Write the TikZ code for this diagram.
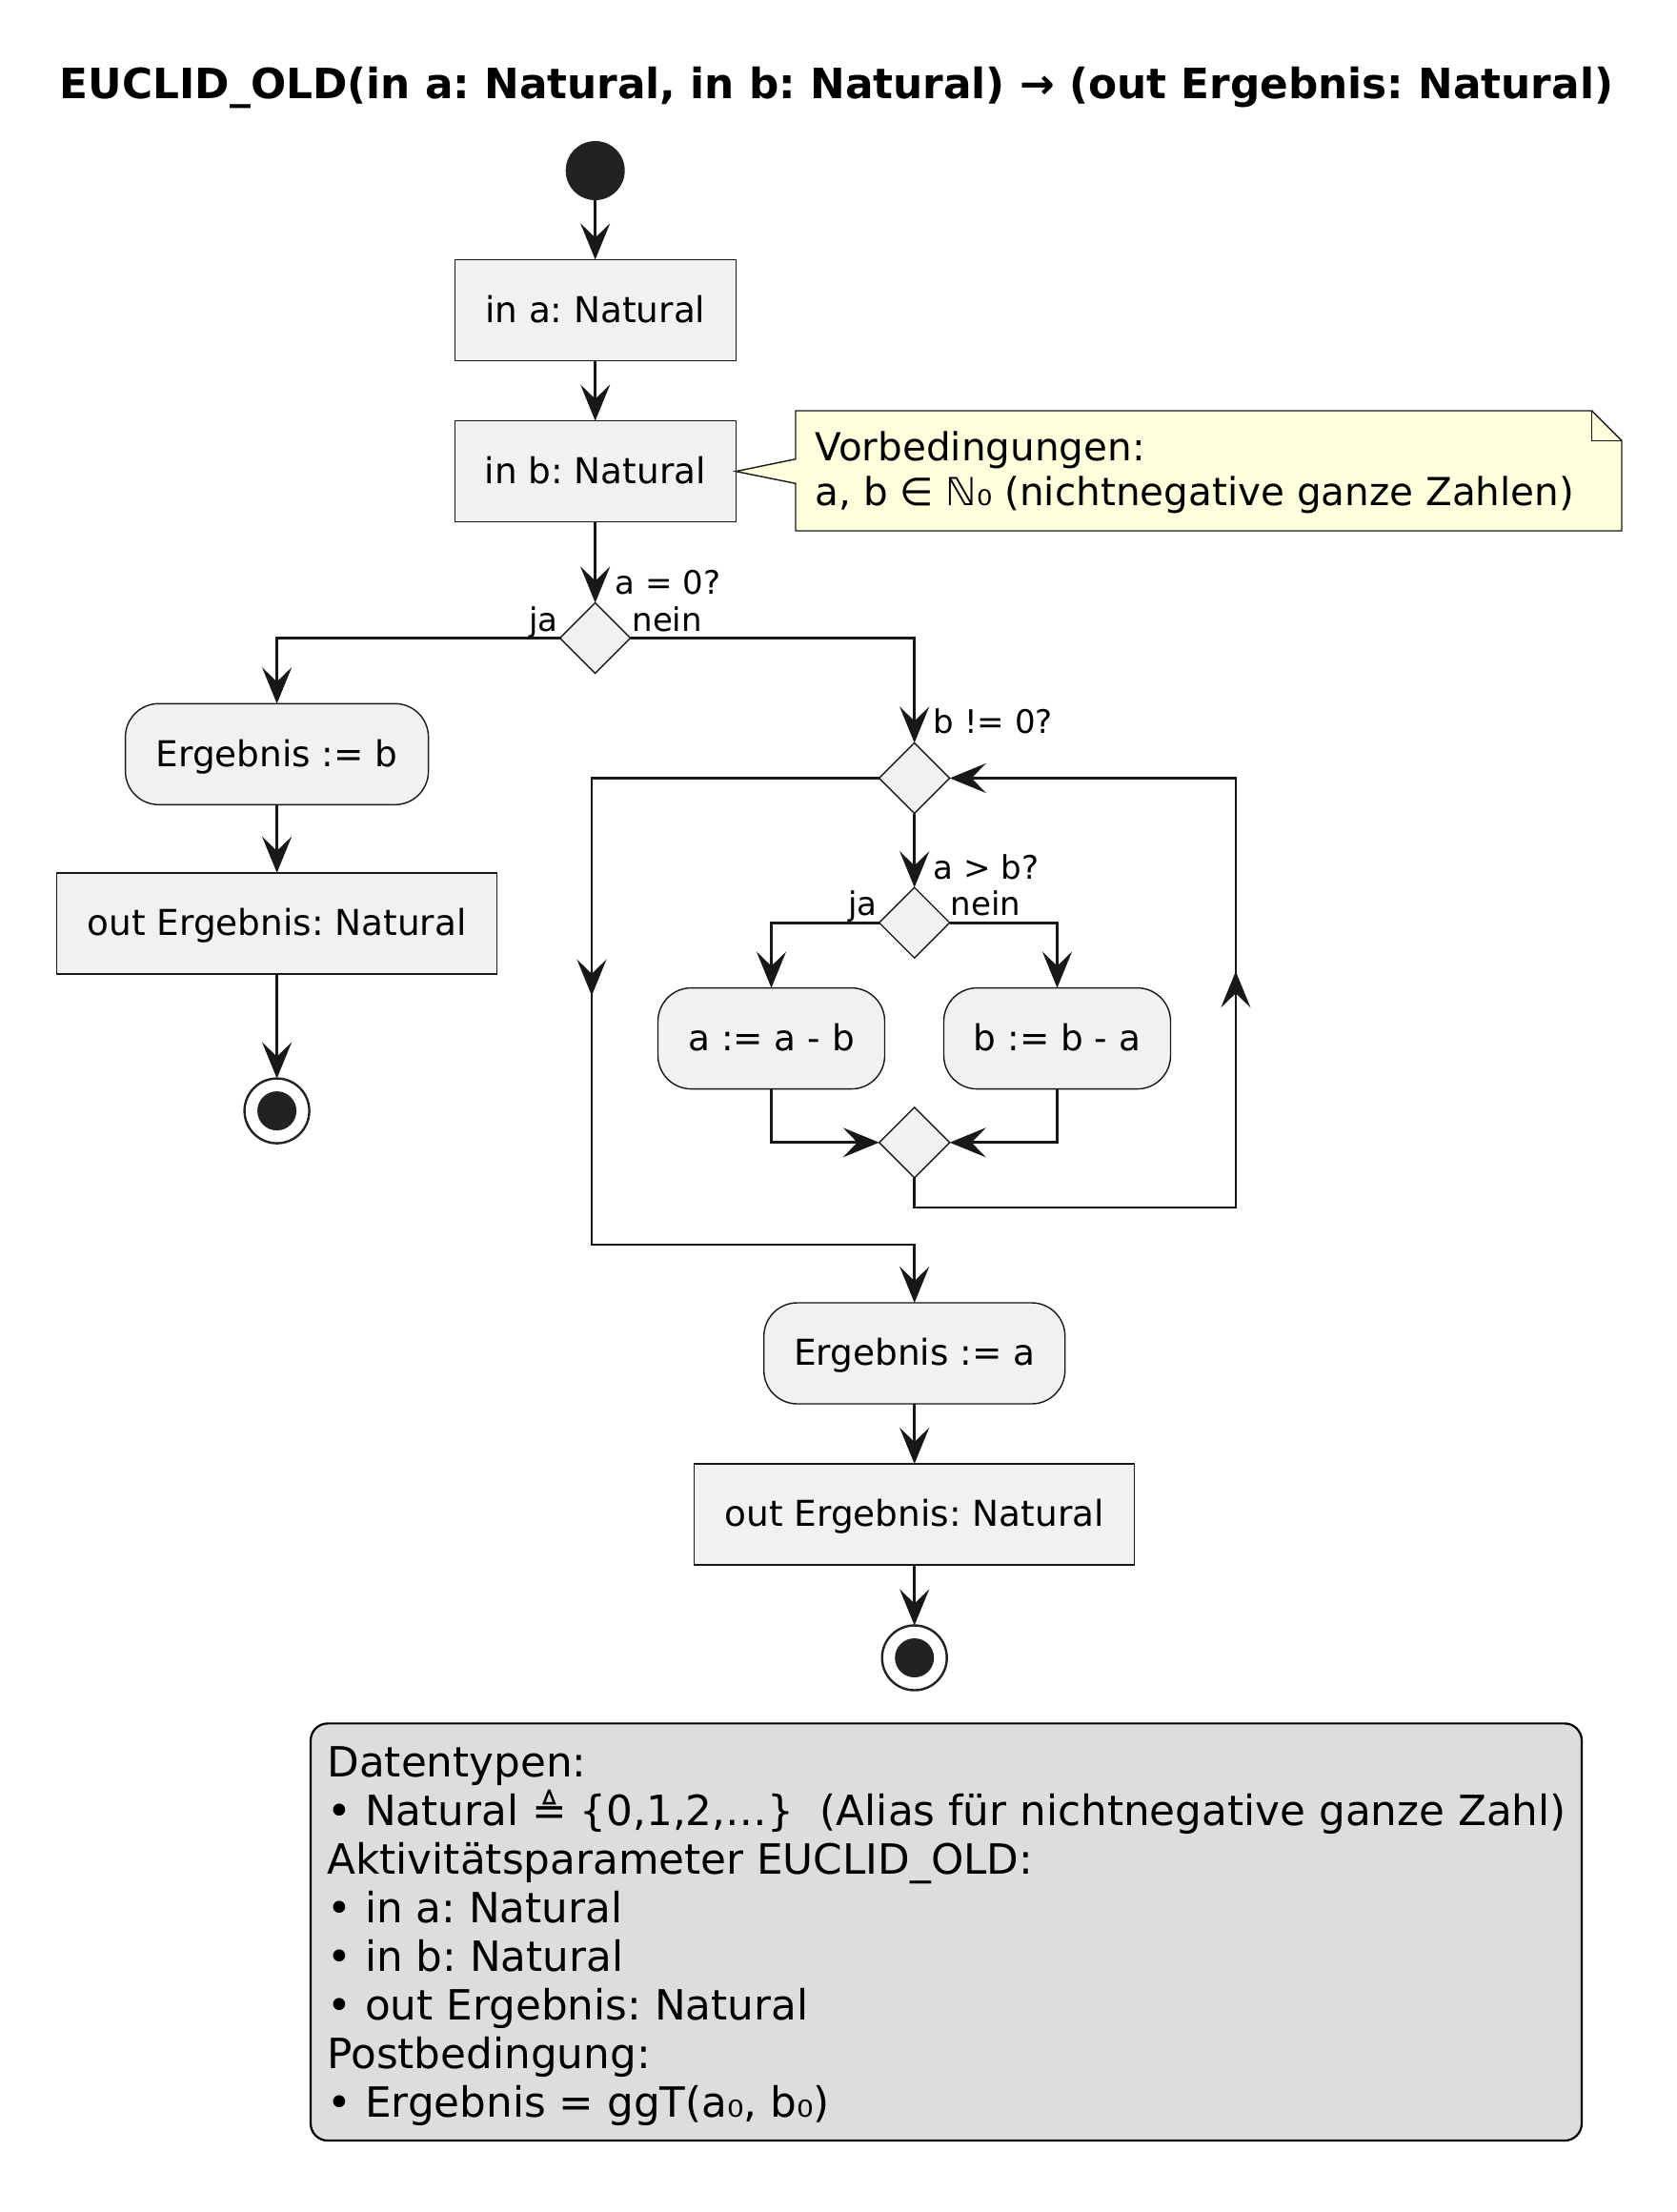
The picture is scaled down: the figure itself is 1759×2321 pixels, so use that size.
\documentclass[tikz,border=0pt]{standalone}
\usepackage{fontspec}
\setmainfont{DejaVu Sans}
\usetikzlibrary{arrows.meta,shapes.geometric,calc}
\definecolor{cline}{HTML}{181818}
\definecolor{cfill}{HTML}{F1F1F1}
\definecolor{cdark}{HTML}{222222}
\definecolor{cnote}{HTML}{FEFFDD}
\definecolor{clegend}{HTML}{DDDDDD}
\begin{document}
\frenchspacing
\begin{tikzpicture}[x=1pt,y=-1pt,
  actfont/.style={font=\fontsize{37.4pt}{43.5pt}\selectfont},
  lblfont/.style={font=\fontsize{34pt}{39.6pt}\selectfont},
  actbox/.style={rectangle, draw=cline, fill=cfill, line width=1.4pt, inner sep=0pt, outer sep=0pt, text height=34.6pt, text depth=8.8pt, actfont, minimum height=106pt},
  roundbox/.style={actbox, rounded corners=35pt},
  decision/.style={diamond, aspect=1, draw=cline, fill=cfill, line width=1.4pt, minimum width=74pt, minimum height=74pt, inner sep=0pt, outer sep=0pt},
  flow/.style={draw=cline, line width=2.7pt, -{Stealth[length=38pt,width=31pt,inset=15pt]}},
  lbl/.style={lblfont, inner sep=0pt, text=black},
  startdot/.style={circle, fill=cdark, minimum size=62pt, inner sep=0pt, outer sep=0pt},
  stopring/.style={circle, draw=cdark, fill=white, line width=2.4pt, minimum size=68pt, inner sep=0pt, outer sep=0pt},
]
\useasboundingbox (0,0) rectangle (1759,2321);
\fill[white] (0,0) rectangle (1759,2321);

% title
\node[font=\fontsize{43.8pt}{51pt}\selectfont\bfseries, anchor=base, inner sep=0pt] (title) at (878,103.3)
  {EUCLID\_OLD(in a: Natural, in b: Natural) → (out Ergebnis: Natural)};

% main column
\node[startdot] (start) at (624.7,179) {};
\node[actbox, minimum width=295pt] (ina) at (624.7,325.4) {in a: Natural};
\node[actbox, minimum width=295pt] (inb) at (624.7,494.6) {in b: Natural};
\node[decision] (d1) at (624.7,669.5) {};

% left branch
\node[roundbox, minimum width=318pt] (erb) at (290.6,791.3) {Ergebnis := b};
\node[actbox, minimum width=462pt] (outL) at (290.6,968.8) {out Ergebnis: Natural};
\node[stopring] (stopL) at (290.6,1165.6) {};
\fill[cdark] (stopL.center) circle (20.5pt);

% right branch
\node[decision] (d2) at (959.7,816.5) {};
\node[decision] (d3) at (959.7,968.2) {};
\node[roundbox, minimum width=238pt] (amb) at (809.5,1089.6) {a := a - b};
\node[roundbox, minimum width=238pt] (bma) at (1109.5,1089.6) {b := b - a};
\node[decision] (d4) at (959.7,1198.8) {};
\node[roundbox, minimum width=316pt] (era) at (959.7,1420) {Ergebnis := a};
\node[actbox, minimum width=462pt] (outR) at (959.7,1589) {out Ergebnis: Natural};
\node[stopring] (stopR) at (959.7,1739.5) {};
\fill[cdark] (stopR.center) circle (20.5pt);

% note
\draw[fill=cnote, draw=cline, line width=1.4pt] (835,431) -- (1670.5,431) -- (1702,462.5) -- (1702,557) -- (835,557) -- (835,507.3) -- (inb.east) -- (835,481.7) -- cycle;
\draw[draw=cline, line width=1.4pt] (1670.5,431) -- (1670.5,462.5) -- (1702,462.5);
\node[anchor=north west, inner sep=0pt, align=left, font=\fontsize{40.5pt}{46.7pt}\selectfont] (notetext) at (855.4,446.1)
  {\rule[-9.5pt]{0pt}{46.7pt}Vorbedingungen:\\a, b ∈ ℕ₀ (nichtnegative ganze Zahlen)};

% connectors
\draw[flow] (start.south) -- (ina.north);
\draw[flow] (ina.south) -- (inb.north);
\draw[flow] (inb.south) -- (d1.north);
\draw[flow] (d1.west) -| (erb.north);
\draw[flow] (erb.south) -- (outL.north);
\draw[flow] (outL.south) -- (stopL.north);
\draw[flow] (d1.east) -| (d2.north);
\draw[flow] (d2.south) -- (d3.north);
\draw[flow] (d3.west) -| (amb.north);
\draw[flow] (d3.east) -| (bma.north);
\draw[flow] (amb.south) |- (d4.west);
\draw[flow] (bma.south) |- (d4.east);

\coordinate (L1) at (621,816.5);
\coordinate (L2) at (621,1306);
\coordinate (L3) at (959.7,1306);
\coordinate (Lm) at (621,1044.7);
\draw[flow] (d2.west) -- (L1) -- (L2) -- (L3) -- (era.north);
\draw[flow] ($(Lm)+(0,-60)$) -- (Lm);

\coordinate (R1) at (959.7,1267.1);
\coordinate (R2) at (1296.9,1267.1);
\coordinate (R3) at (1296.9,816.5);
\coordinate (Rm) at (1296.9,1019.2);
\draw[flow] (d4.south) -- (R1) -- (R2) -- (R3) -- (d2.east);
\draw[flow] ($(Rm)+(0,60)$) -- (Rm);

\draw[flow] (era.south) -- (outR.north);
\draw[flow] (outR.south) -- (stopR.north);

% labels
\node[lbl, anchor=base west] (l1) at (645.4,623.8) {a = 0?};
\node[lbl, anchor=base east] (l2) at (585.7,662) {ja};
\node[lbl, anchor=base west] (l3) at (663.3,662) {nein};
\node[lbl, anchor=base west] (l4) at (979.6,769.2) {b != 0?};
\node[lbl, anchor=base west] (l5) at (979.6,922.2) {a > b?};
\node[lbl, anchor=base east] (l6) at (921,960.5) {ja};
\node[lbl, anchor=base west] (l7) at (997.4,960.5) {nein};

% legend
\node[rectangle, draw=black, fill=clegend, line width=2.2pt, rounded corners=18pt, minimum width=1334pt, minimum height=437.7pt, inner sep=0pt, outer sep=0pt] (legend) at (993,2027.2) {};
\node[anchor=north west, inner sep=0pt, align=left, font=\fontsize{43.7pt}{51.1pt}\selectfont] (legendtext) at (343.3,1823.5)
  {\rule[-10.2pt]{0pt}{50.7pt}Datentypen:\\
   • Natural ≜ \{0,1,2,…\}\ \ (Alias für nichtnegative ganze Zahl)\\
   Aktivitätsparameter EUCLID\_OLD:\\
   • in a: Natural\\
   • in b: Natural\\
   • out Ergebnis: Natural\\
   Postbedingung:\\
   • Ergebnis = ggT(a₀, b₀)};
\end{tikzpicture}
\end{document}
